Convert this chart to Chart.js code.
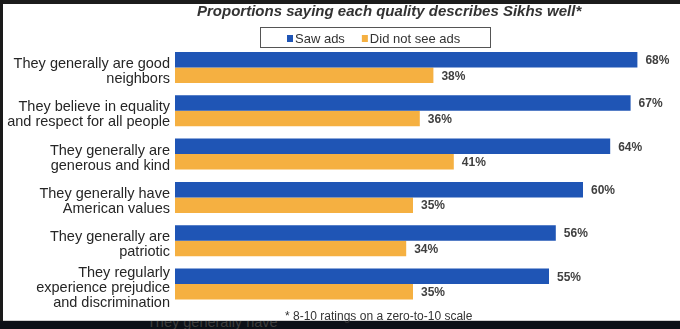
<!DOCTYPE html>
<html><head><meta charset="utf-8">
<script src="https://cdn.jsdelivr.net/npm/chart.js@4"></script>
<style>
html,body{margin:0;padding:0;width:680px;height:329px;overflow:hidden;background:#0c1017;}
#topb{position:absolute;left:0;top:0;width:680px;height:4px;background:#1c1c1c;}
#leftb{position:absolute;left:0;top:0;width:3px;height:321px;background:#1a1a1a;}
#ghost{position:absolute;left:147px;top:314px;font:14.5px "Liberation Sans",Arial,sans-serif;color:#3d3d3d;white-space:nowrap;}
#panel{position:absolute;left:3px;top:4px;width:677px;height:317px;background:#fff;border-bottom:1px solid #d0d0d0;box-sizing:border-box;}
#c{position:absolute;left:0;top:0;}
</style></head>
<body>
<div id="topb"></div><div id="leftb"></div>
<div id="ghost">They generally have</div>
<div id="panel"></div>
<canvas id="c" width="680" height="329"></canvas>
<script>
const categories = [
  ["They generally are good", "neighbors"],
  ["They believe in equality", "and respect for all people"],
  ["They generally are", "generous and kind"],
  ["They generally have", "American values"],
  ["They generally are", "patriotic"],
  ["They regularly", "experience prejudice", "and discrimination"]
];
const sawAds = [68, 67, 64, 60, 56, 55];
const didNotSeeAds = [38, 36, 41, 35, 34, 35];
const seriesNames = ["Saw ads", "Did not see ads"];
const titleText = "Proportions saying each quality describes Sikhs well*";
const footnoteText = "* 8-10 ratings on a zero-to-10 scale";

const FONT = '"Liberation Sans", Arial, sans-serif';
const BLUE = '#1f55b5';
const ORANGE = '#f5b041';

const decor = {
  id: 'decor',
  afterDatasetsDraw(chart) {
    const ctx = chart.ctx;
    ctx.save();
    ctx.font = 'bold 12px ' + FONT;
    ctx.fillStyle = '#3f3f3f';
    ctx.textBaseline = 'middle';
    ctx.textAlign = 'left';
    chart.data.datasets.forEach((ds, di) => {
      const meta = chart.getDatasetMeta(di);
      meta.data.forEach((el, i) => {
        ctx.fillText(ds.data[i] + '%', el.x + 8, el.y + 1);
      });
    });
    ctx.restore();
  },
  afterDraw(chart) {
    const ctx = chart.ctx;
    ctx.save();
    ctx.font = 'italic bold 15px ' + FONT;
    ctx.fillStyle = '#333333';
    ctx.textAlign = 'left';
    ctx.textBaseline = 'alphabetic';
    ctx.fillText(titleText, 197, 16);
    ctx.strokeStyle = '#555555';
    ctx.lineWidth = 1;
    ctx.strokeRect(260.5, 27.5, 230, 20);
    ctx.font = '13px ' + FONT;
    ctx.textBaseline = 'middle';
    let x = 287;
    chart.data.datasets.forEach((ds) => {
      ctx.fillStyle = ds.backgroundColor;
      ctx.fillRect(x, 35, 6, 7);
      ctx.fillStyle = '#333333';
      ctx.fillText(ds.label, x + 8, 39);
      x += 8 + ctx.measureText(ds.label).width + 17;
    });
    ctx.font = '12px ' + FONT;
    ctx.fillStyle = '#333333';
    ctx.textBaseline = 'alphabetic';
    ctx.fillText(footnoteText, 285, 320);
    ctx.restore();
  }
};

new Chart(document.getElementById('c'), {
  type: 'bar',
  data: {
    labels: categories,
    datasets: [
      { label: seriesNames[0], data: sawAds, backgroundColor: BLUE, borderWidth: 0,
        barPercentage: 1, categoryPercentage: 0.716 },
      { label: seriesNames[1], data: didNotSeeAds, backgroundColor: ORANGE, borderWidth: 0,
        barPercentage: 1, categoryPercentage: 0.716 }
    ]
  },
  options: {
    indexAxis: 'y',
    responsive: false,
    animation: false,
    devicePixelRatio: 1,
    layout: { padding: { left: 0, right: 15.4, top: 45.85, bottom: 23.35 } },
    scales: {
      x: { display: false, min: 0, max: 72 },
      y: {
        grid: { display: false, drawTicks: false },
        border: { display: false },
        ticks: {
          color: '#262626',
          font: { family: FONT, size: 14.5, lineHeight: '15px' },
          padding: 5,
          labelOffset: 4,
          autoSkip: false
        },
        afterFit(scale) { scale.width = 175; }
      }
    },
    plugins: {
      legend: { display: false },
      title: { display: false },
      tooltip: { enabled: false }
    }
  },
  plugins: [decor]
});
</script>
</body></html>
